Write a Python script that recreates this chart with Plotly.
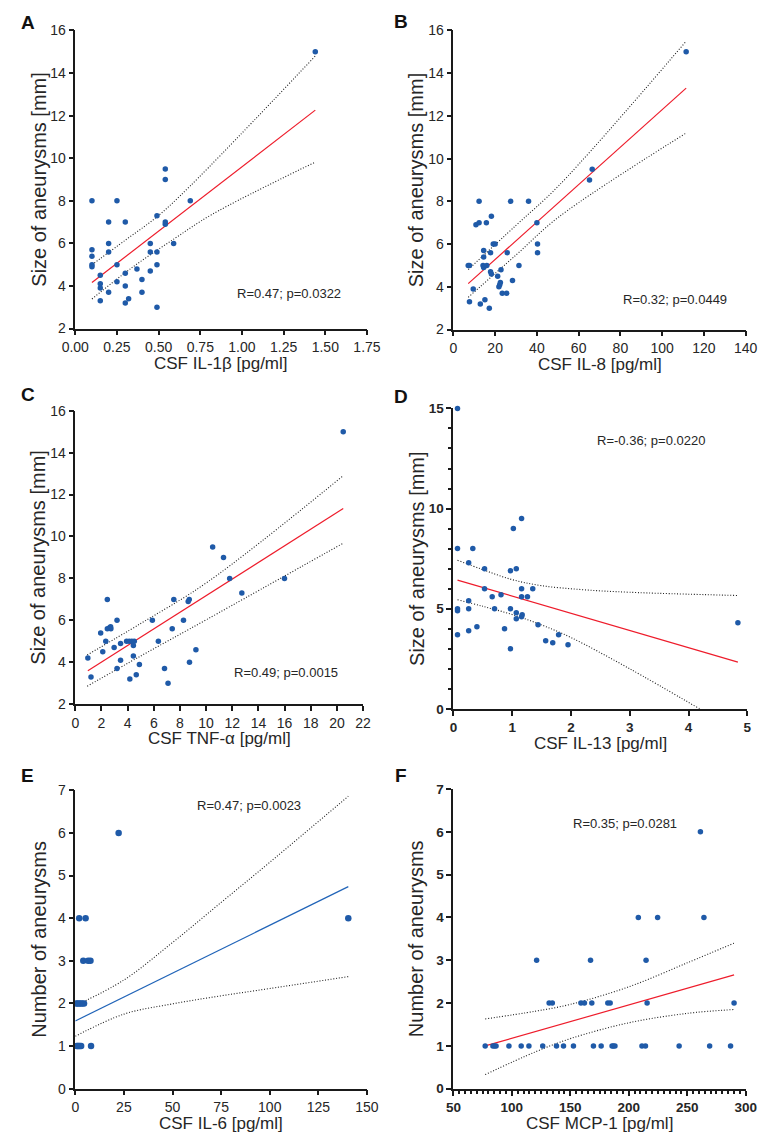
import plotly.graph_objects as go

W, H = 769, 1141
OFF = 8  # page body margin: figure starts 8px in from the window edge

# ---- panel A: CSF IL-1b vs size
a_x = [0.10, 0.10, 0.10, 0.10, 0.10, 0.15, 0.15, 0.15, 0.15, 0.20, 0.20, 0.20, 0.20,
       0.25, 0.25, 0.25, 0.30, 0.30, 0.30, 0.30, 0.32, 0.37, 0.40, 0.40, 0.45, 0.45,
       0.45, 0.49, 0.49, 0.49, 0.49, 0.54, 0.54, 0.54, 0.54, 0.59, 0.69, 1.44]
a_y = [8.0, 5.7, 5.4, 5.0, 4.9, 4.5, 4.1, 3.9, 3.3, 7.0, 6.0, 5.6, 3.7,
       8.0, 5.0, 4.2, 7.0, 4.6, 4.0, 3.2, 3.4, 4.8, 4.3, 3.7, 6.0, 5.6,
       4.7, 7.3, 5.6, 5.0, 3.0, 9.5, 9.0, 7.0, 6.9, 6.0, 8.0, 15.0]
a_fit_x = [0.10, 1.44]
a_fit_y = [4.16, 12.26]
a_up_x = [0.10, 0.30, 0.49, 0.69, 1.44]
a_up_y = [5.0, 6.15, 7.25, 8.7, 14.8]
a_lo_x = [0.10, 0.34, 0.60, 0.82, 1.44]
a_lo_y = [3.39, 4.86, 6.25, 7.36, 9.82]

# ---- panel B: CSF IL-8 vs size
b_x = [7.1, 7.7, 7.7, 9.5, 10.8, 12.3, 12.3, 12.9, 14.5, 14.5, 14.2, 14.5, 15.1, 15.8,
       16.0, 17.2, 17.8, 18.2, 17.8, 18.2, 19.1, 20.0, 21.2, 21.8, 22.2, 22.5, 22.8,
       23.4, 25.5, 25.8, 27.4, 28.3, 31.4, 36.0, 40.0, 40.3, 40.3, 65.2, 66.5, 111.5]
b_y = [5.0, 5.0, 3.3, 3.9, 6.9, 8.0, 7.0, 3.2, 5.7, 5.4, 5.0, 4.9, 3.4, 7.0,
       5.0, 3.0, 5.6, 7.3, 4.7, 4.6, 6.0, 6.0, 4.5, 4.0, 4.1, 4.2, 4.8,
       3.7, 3.7, 5.6, 8.0, 4.3, 5.0, 8.0, 7.0, 6.0, 5.6, 9.0, 9.5, 15.0]
b_fit_x = [7.1, 111.5]
b_fit_y = [4.15, 13.3]
b_up_x = [7.1, 30, 50.5, 111.5]
b_up_y = [4.81, 6.88, 8.74, 15.5]
b_lo_x = [7.1, 30, 50.5, 111.5]
b_lo_y = [3.51, 5.49, 7.27, 11.2]

# ---- panel C: CSF TNF-a vs size
c_x = [0.96, 1.2, 1.94, 2.1, 2.33, 2.45, 2.45, 2.62, 2.7, 2.72, 2.97, 3.19, 3.19, 3.46,
       3.46, 3.92, 4.12, 4.17, 4.32, 4.44, 4.44, 4.51, 4.66, 4.9, 5.89, 6.35, 6.82,
       7.09, 7.41, 7.53, 8.27, 8.63, 8.71, 8.73, 9.22, 10.5, 11.33, 11.8, 12.73, 15.99, 20.48]
c_y = [4.2, 3.3, 5.4, 4.5, 5.0, 7.0, 5.6, 5.65, 5.7, 5.6, 4.7, 6.0, 3.7, 4.9,
       4.1, 5.0, 5.0, 3.2, 5.0, 4.8, 4.3, 5.0, 3.4, 3.9, 6.0, 5.0, 3.7,
       3.0, 5.6, 7.0, 6.0, 6.9, 7.0, 4.0, 4.6, 9.5, 9.0, 8.0, 7.3, 8.0, 15.0]
c_fit_x = [0.96, 20.48]
c_fit_y = [3.6, 11.33]
c_up_x = [0.91, 5, 10.16, 20.48]
c_up_y = [4.35, 5.85, 7.85, 12.9]
c_lo_x = [0.91, 5, 10.16, 20.48]
c_lo_y = [2.86, 4.3, 6.08, 9.68]

# ---- panel D: CSF IL-13 vs size
d_x = [0.07, 0.07, 0.07, 0.07, 0.07, 0.26, 0.26, 0.26, 0.26, 0.33, 0.40, 0.53, 0.53,
       0.66, 0.70, 0.81, 0.87, 0.97, 0.97, 0.97, 1.02, 1.07, 1.07, 1.07, 1.16, 1.16,
       1.16, 1.17, 1.16, 1.26, 1.35, 1.44, 1.57, 1.69, 1.79, 1.95, 4.84]
d_y = [15.0, 8.0, 5.0, 4.9, 3.7, 7.3, 5.4, 5.0, 3.9, 8.0, 4.1, 7.0, 6.0,
       5.6, 5.0, 5.7, 4.0, 6.9, 5.0, 3.0, 9.0, 7.0, 4.8, 4.5, 9.5, 6.0,
       5.6, 4.7, 4.6, 5.6, 6.0, 4.2, 3.4, 3.3, 3.7, 3.2, 4.3]
d_fit_x = [0.07, 4.84]
d_fit_y = [6.43, 2.33]
d_up_x = [0.07, 0.5, 1.0, 1.5, 2.2, 3.0, 4.84]
d_up_y = [7.42, 6.95, 6.45, 6.15, 5.95, 5.82, 5.66]
d_lo_x = [0.07, 0.5, 1.0, 1.5, 2.0, 3.0, 4.19]
d_lo_y = [5.45, 5.12, 4.71, 4.19, 3.56, 2.0, 0.0]

# ---- panel E: CSF IL-6 vs number
e_x = [22.3, 2.0, 5.3, 140.4, 4.1, 6.6, 7.8, 0.5, 1.2, 2.0, 2.8, 3.6, 4.5,
       0.8, 1.3, 1.8, 2.4, 3.0, 8.1]
e_y = [6, 4, 4, 4, 3, 3, 3, 2, 2, 2, 2, 2, 2,
       1, 1, 1, 1, 1, 1]
e_fit_x = [0, 140.4]
e_fit_y = [1.59, 4.74]
e_up_x = [0, 25, 50, 75, 100, 140.4]
e_up_y = [1.95, 2.55, 3.43, 4.37, 5.31, 6.86]
e_lo_x = [0, 25, 50, 75, 100, 140.4]
e_lo_y = [1.23, 1.75, 1.99, 2.18, 2.35, 2.63]

# ---- panel F: CSF MCP-1 vs number
f_x = [77.2, 83.8, 85.2, 86.5, 97.5, 108.0, 114.6, 126.4, 138.2, 144.2, 152.7,
       169.8, 176.4, 185.7, 186.8, 188.2, 211.3, 214.3, 243.1, 269.2, 287.1,
       131.9, 134.6, 159.1, 162.1, 168.4, 182.1, 184.1, 215.7, 290.1,
       121.2, 167.3, 214.8, 208.2, 224.7, 264.3, 261.3]
f_y = [1, 1, 1, 1, 1, 1, 1, 1, 1, 1, 1,
       1, 1, 1, 1, 1, 1, 1, 1, 1, 1,
       2, 2, 2, 2, 2, 2, 2, 2, 2,
       3, 3, 3, 4, 4, 4, 6]
f_fit_x = [77.2, 290.1]
f_fit_y = [1.0, 2.66]
f_up_x = [77.2, 120, 150, 200, 250, 290]
f_up_y = [1.63, 1.81, 1.97, 2.38, 2.94, 3.40]
f_lo_x = [77.2, 120, 150, 200, 250, 290]
f_lo_y = [0.33, 0.86, 1.17, 1.54, 1.76, 1.85]

labels = ['A', 'B', 'C', 'D', 'E', 'F']
x_titles = ['CSF IL-1β [pg/ml]', 'CSF IL-8 [pg/ml]', 'CSF TNF-α [pg/ml]',
            'CSF IL-13 [pg/ml]', 'CSF IL-6 [pg/ml]', 'CSF MCP-1 [pg/ml]']
y_titles = ['Size of aneurysms [mm]'] * 4 + ['Number of aneurysms'] * 2
stats = ['R=0.47; p=0.0322', 'R=0.32; p=0.0449', 'R=0.49; p=0.0015',
         'R=-0.36; p=0.0220', 'R=0.47; p=0.0023', 'R=0.35; p=0.0281']

FONT = 'Arial, Liberation Sans, sans-serif'
TEXT = '#262626'
DOT = '#1f5aa8'
RED = '#ee1c2b'
BLUE = '#2164b8'
AXIS = '#1a1a1a'


def _paper_x(px):
    return (px - OFF) / W


def _paper_y(py):
    return 1 - (py - OFF) / H


def _scatter_panel(fig, n, x, y, fx, fy, ux, uy, lx, ly, fit_color, msize=5.5):
    xa = 'x' if n == 1 else f'x{n}'
    ya = 'y' if n == 1 else f'y{n}'
    for cx, cy in [(ux, uy), (lx, ly)]:
        fig.add_trace(go.Scatter(
            x=cx, y=cy, mode='lines',
            line=dict(color='#1e1e1e', width=1.1, dash='1px,1.8px', shape='spline'),
            xaxis=xa, yaxis=ya, showlegend=False, hoverinfo='skip'))
    fig.add_trace(go.Scatter(
        x=fx, y=fy, mode='lines', line=dict(color=fit_color, width=1.2),
        xaxis=xa, yaxis=ya, showlegend=False))
    fig.add_trace(go.Scatter(
        x=x, y=y, mode='markers', marker=dict(color=DOT, size=msize),
        cliponaxis=False, xaxis=xa, yaxis=ya, showlegend=False))


fig = go.Figure()
_scatter_panel(fig, 1, a_x, a_y, a_fit_x, a_fit_y, a_up_x, a_up_y, a_lo_x, a_lo_y, RED)
_scatter_panel(fig, 2, b_x, b_y, b_fit_x, b_fit_y, b_up_x, b_up_y, b_lo_x, b_lo_y, RED)
_scatter_panel(fig, 3, c_x, c_y, c_fit_x, c_fit_y, c_up_x, c_up_y, c_lo_x, c_lo_y, RED)
_scatter_panel(fig, 4, d_x, d_y, d_fit_x, d_fit_y, d_up_x, d_up_y, d_lo_x, d_lo_y, RED)
_scatter_panel(fig, 5, e_x, e_y, e_fit_x, e_fit_y, e_up_x, e_up_y, e_lo_x, e_lo_y, BLUE, 6.5)
_scatter_panel(fig, 6, f_x, f_y, f_fit_x, f_fit_y, f_up_x, f_up_y, f_lo_x, f_lo_y, RED)

# pixel boxes (window coords) of each plot area: left, right, top, bottom
boxes = [
    (63.3, 366, 22.7, 325),
    (455.7, 759, 22.7, 326),
    (63.3, 362, 408.3, 706),
    (455.7, 760.7, 406, 710.7),
    (63.3, 366, 793.3, 1096),
    (455.7, 759, 792, 1096),
]
x_ranges = [[0, 1.75], [0, 140], [0, 22], [0, 5], [0, 150], [50, 300]]
x_dticks = [0.25, 20, 2, 1, 25, 50]
y_ranges = [[2, 16], [2, 16], [2, 16], [0, 15], [0, 7], [0, 7]]
y_dticks = [2, 2, 2, 5, 1, 1]
stat_pos = [(1.28, 3.67), (106.2, 3.4), (16.1, 3.5), (3.37, 13.4), (89.2, 6.65), (196.4, 6.2)]
letter_pos = [(14, 15), (401, 14), (14, 392), (401, 394), (14, 778), (401, 778)]

layout = dict(
    width=W, height=H, margin=dict(l=0, r=0, t=0, b=0),
    paper_bgcolor='white', plot_bgcolor='white',
    font=dict(family=FONT, color=TEXT),
    showlegend=False,
)
annotations = []
for i in range(6):
    n = i + 1
    left, right, top, bottom = boxes[i]
    bold = n in (4, 6)
    tick_font = dict(family=FONT, size=14 if not bold else 13.5, color=TEXT,
                     weight='bold' if bold else 'normal')
    lw = 2 if bold else 1.5
    xa = dict(
        domain=[_paper_x(left), _paper_x(right)], range=x_ranges[i],
        dtick=x_dticks[i], tick0=x_ranges[i][0], showgrid=False, zeroline=False,
        showline=True, linecolor=AXIS, linewidth=lw, ticks='outside',
        ticklen=5, tickwidth=lw, tickcolor=AXIS, tickfont=tick_font,
        anchor='y' if n == 1 else f'y{n}', fixedrange=True,
    )
    ya = dict(
        domain=[_paper_y(bottom), _paper_y(top)], range=y_ranges[i],
        dtick=y_dticks[i], showgrid=False, zeroline=False,
        showline=True, linecolor=AXIS, linewidth=lw, ticks='outside',
        ticklen=5, tickwidth=lw, tickcolor=AXIS, tickfont=tick_font,
        anchor='x' if n == 1 else f'x{n}', fixedrange=True,
    )
    if n == 1:
        xa['tickformat'] = '.2f'
    if n == 4:
        ya['minor'] = dict(dtick=1, ticks='outside', ticklen=3, tickwidth=1.5,
                           tickcolor=AXIS)
    if n == 6:
        xa['minor'] = dict(dtick=5, ticks='outside', ticklen=3, tickwidth=1.5,
                           tickcolor=AXIS)
    layout['xaxis' if n == 1 else f'xaxis{n}'] = xa
    layout['yaxis' if n == 1 else f'yaxis{n}'] = ya

    # axis titles
    annotations.append(dict(
        text=x_titles[i], xref='paper', yref='paper',
        x=_paper_x((left + right) / 2), y=_paper_y(bottom + 35),
        xanchor='center', yanchor='middle', showarrow=False,
        font=dict(family=FONT, size=17, color=TEXT)))
    annotations.append(dict(
        text=y_titles[i], xref='paper', yref='paper',
        x=_paper_x(left - 38.5), y=_paper_y((top + bottom) / 2),
        xanchor='center', yanchor='middle', textangle=-90, showarrow=False,
        font=dict(family=FONT, size=20, color=TEXT)))
    # stats text
    annotations.append(dict(
        text=stats[i], xref='x' if n == 1 else f'x{n}', yref='y' if n == 1 else f'y{n}',
        x=stat_pos[i][0], y=stat_pos[i][1], xanchor='center', yanchor='middle',
        showarrow=False, font=dict(family=FONT, size=13, color=TEXT)))
    # panel letter
    annotations.append(dict(
        text=f'<b>{labels[i]}</b>', xref='paper', yref='paper',
        x=_paper_x(letter_pos[i][0]), y=_paper_y(letter_pos[i][1]),
        xanchor='center', yanchor='middle',
        showarrow=False, font=dict(family=FONT, size=19, color='#111111')))

layout['annotations'] = annotations
fig.update_layout(**layout)

fig.write_html('out.html')
